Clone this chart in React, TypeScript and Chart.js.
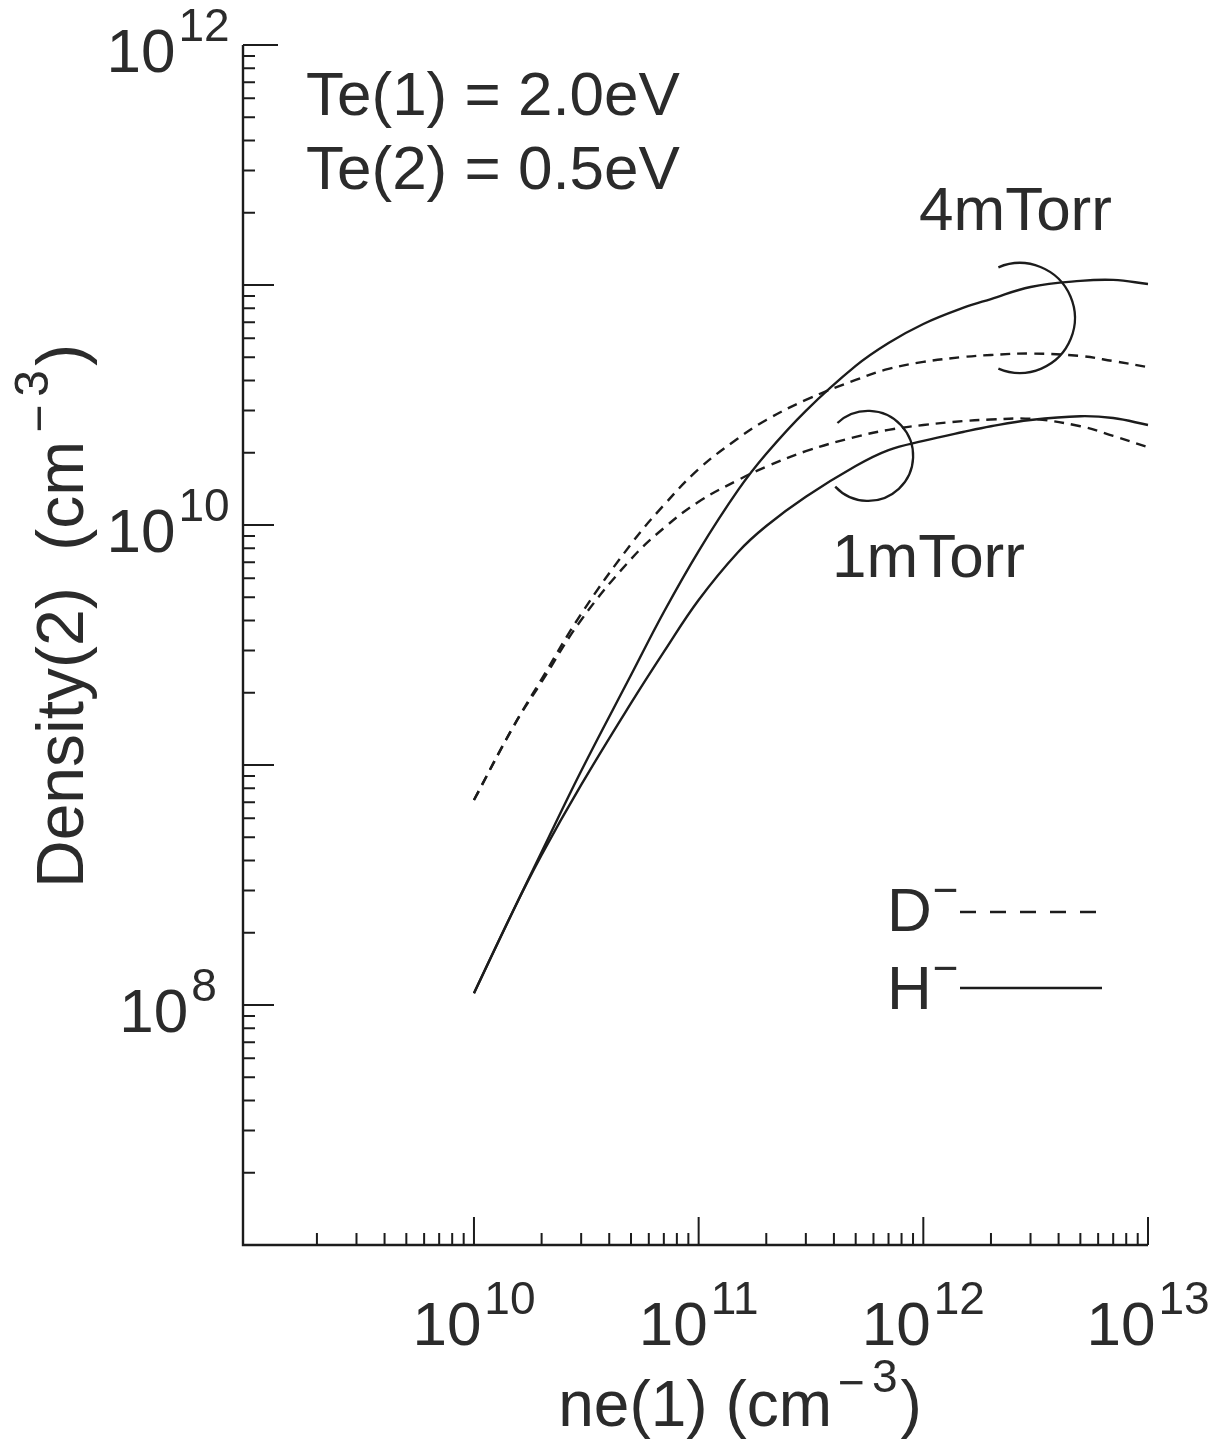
import React, { useEffect, useRef } from "react";
import { Chart, registerables } from "chart.js";

Chart.register(...registerables);

// ---- data ----
const neValues = [
  1e10, 1.5e10, 2e10, 3e10, 5e10, 7e10, 1e11, 1.5e11, 2e11, 3e11, 5e11, 7e11,
  1e12, 1.5e12, 2e12, 3e12, 5e12, 7e12, 1e13,
];
const hMinus4mTorr = [
  1.12e8, 2.49e8, 4.34e8, 9.44e8, 2.37e9, 4.34e9, 7.79e9, 1.4e10, 1.98e10, 2.99e10,
  4.6e10, 5.73e10, 6.88e10, 8.02e10, 8.74e10, 9.81e10, 1.04e11, 1.05e11, 1.01e11,
];
const hMinus1mTorr = [
  1.12e8, 2.49e8, 4.22e8, 8.26e8, 1.81e9, 2.96e9, 4.87e9, 7.72e9, 9.9e9, 1.31e10,
  1.76e10, 2.05e10, 2.24e10, 2.44e10, 2.58e10, 2.74e10, 2.84e10, 2.79e10, 2.61e10,
];
const dMinus4mTorr = [
  7.15e8, 1.45e9, 2.28e9, 4.26e9, 8.33e9, 1.21e10, 1.71e10, 2.3e10, 2.74e10, 3.32e10,
  4.02e10, 4.47e10, 4.78e10, 5.01e10, 5.11e10, 5.18e10, 5.06e10, 4.82e10, 4.55e10,
];
const dMinus1mTorr = [
  7.15e8, 1.45e9, 2.22e9, 4.02e9, 7.21e9, 9.71e9, 1.25e10, 1.54e10, 1.75e10, 2.03e10,
  2.33e10, 2.49e10, 2.61e10, 2.71e10, 2.75e10, 2.77e10, 2.58e10, 2.35e10, 2.11e10,
];
const xTickExponents = [10, 11, 12, 13];
const yTickExponents = [12, 10, 8];
const xMajorDecades = [10, 11, 12, 13];
const yMajorDecades = [8, 9, 10, 11, 12];
const xMinorDecades = [9, 10, 11, 12];
const yMinorDecades = [7, 8, 9, 10, 11];
const conditionLines = ["Te(1) = 2.0eV", "Te(2) = 0.5eV"];
const pressureLabels = ["4mTorr", "1mTorr"];
const legendItems = ["D", "H"];

const X_MIN = Math.pow(10, 8.972);
const X_MAX = 1e13;
const Y_MIN = 1e7;
const Y_MAX = 1e12;

const FONT = '"Liberation Sans", Arial, Helvetica, sans-serif';
const INK = "#1c1c1c";
const TEXT = "#2b2b2b";

type Part = { t: string; size: number; dy?: number; gap?: number };

function measureParts(ctx: CanvasRenderingContext2D, parts: Part[]) {
  let w = 0;
  for (const p of parts) {
    ctx.font = `${p.size}px ${FONT}`;
    w += (p.gap || 0) + ctx.measureText(p.t).width;
  }
  return w;
}

function drawParts(
  ctx: CanvasRenderingContext2D,
  parts: Part[],
  x: number,
  y: number,
  align: "left" | "center"
) {
  const total = measureParts(ctx, parts);
  let cx = align === "center" ? x - total / 2 : x;
  ctx.textAlign = "left";
  ctx.textBaseline = "alphabetic";
  for (const p of parts) {
    ctx.font = `${p.size}px ${FONT}`;
    cx += p.gap || 0;
    ctx.fillText(p.t, cx, y - (p.dy || 0));
    cx += ctx.measureText(p.t).width;
  }
}

const overlayPlugin = {
  id: "overlay",
  afterDraw(chart: any) {
    const ctx: CanvasRenderingContext2D = chart.ctx;
    const xs = chart.scales.x;
    const ys = chart.scales.y;
    const left = xs.getPixelForValue(X_MIN);
    const right = xs.getPixelForValue(X_MAX);
    const top = ys.getPixelForValue(Y_MAX);
    const bottom = ys.getPixelForValue(Y_MIN);
    ctx.save();
    ctx.strokeStyle = INK;
    ctx.lineCap = "butt";
    // axes
    ctx.lineWidth = 2.4;
    ctx.beginPath();
    ctx.moveTo(left, top);
    ctx.lineTo(left, bottom);
    ctx.lineTo(right, bottom);
    ctx.stroke();
    // y ticks
    ctx.lineWidth = 2;
    ctx.beginPath();
    for (const d of yMajorDecades) {
      const py = ys.getPixelForValue(Math.pow(10, d));
      ctx.moveTo(left, py);
      ctx.lineTo(left + (d === 12 ? 35 : 31), py);
    }
    for (const d of yMinorDecades) {
      for (let m = 2; m <= 9; m++) {
        const py = ys.getPixelForValue(m * Math.pow(10, d));
        ctx.moveTo(left, py);
        ctx.lineTo(left + 12, py);
      }
    }
    // x ticks
    for (const d of xMajorDecades) {
      const px = xs.getPixelForValue(Math.pow(10, d));
      ctx.moveTo(px, bottom);
      ctx.lineTo(px, bottom - 28);
    }
    for (const d of xMinorDecades) {
      for (let m = 2; m <= 9; m++) {
        const v = m * Math.pow(10, d);
        if (v < X_MIN) continue;
        const px = xs.getPixelForValue(v);
        ctx.moveTo(px, bottom);
        ctx.lineTo(px, bottom - 12);
      }
    }
    ctx.stroke();

    ctx.fillStyle = TEXT;
    // y tick labels
    for (const e of yTickExponents) {
      const py = ys.getPixelForValue(Math.pow(10, e));
      drawParts(
        ctx,
        [
          { t: "10", size: 62 },
          { t: String(e), size: 46, dy: 31, gap: 3 },
        ],
        168,
        py + 27,
        "center"
      );
    }
    // x tick labels
    for (const e of xTickExponents) {
      const px = xs.getPixelForValue(Math.pow(10, e));
      drawParts(
        ctx,
        [
          { t: "10", size: 62 },
          { t: String(e), size: 46, dy: 31, gap: 3 },
        ],
        px,
        1345,
        "center"
      );
    }
    // x title
    drawParts(
      ctx,
      [
        { t: "ne(1) (cm", size: 64 },
        { t: "\u2212", size: 46, dy: 28, gap: 6 },
        { t: "3", size: 46, dy: 34, gap: 7 },
        { t: ")", size: 64, gap: 3 },
      ],
      740,
      1426,
      "center"
    );
    // y title
    ctx.save();
    ctx.translate(83, 616);
    ctx.rotate(-Math.PI / 2);
    drawParts(
      ctx,
      [
        { t: "Density(2)  (cm", size: 66 },
        { t: "\u2212", size: 48, dy: 28, gap: 8 },
        { t: "3", size: 48, dy: 35, gap: 8 },
        { t: ")", size: 66, gap: 4 },
      ],
      0,
      0,
      "center"
    );
    ctx.restore();

    // conditions text
    ctx.font = `62px ${FONT}`;
    ctx.textAlign = "left";
    ctx.textBaseline = "alphabetic";
    ctx.fillText(conditionLines[0], 306, 115);
    ctx.fillText(conditionLines[1], 306, 189);
    // pressure labels
    ctx.fillText(pressureLabels[0], 919, 230);
    ctx.fillText(pressureLabels[1], 832, 577);

    // brackets (arcs) around curve pairs
    ctx.lineWidth = 2.3;
    const c4x = xs.getPixelForValue(2.69e12);
    const c4y = ys.getPixelForValue(7.29e10);
    ctx.beginPath();
    ctx.arc(c4x, c4y, 55, (-113 * Math.PI) / 180, (113 * Math.PI) / 180, false);
    ctx.stroke();
    const c1x = xs.getPixelForValue(5.68e11);
    const c1y = ys.getPixelForValue(1.94e10);
    ctx.beginPath();
    ctx.arc(c1x, c1y, 45, (-133 * Math.PI) / 180, (137 * Math.PI) / 180, false);
    ctx.stroke();

    // legend
    ctx.fillStyle = TEXT;
    drawParts(ctx, [{ t: legendItems[0], size: 62 }, { t: "\u2212", size: 44, dy: 26, gap: 1 }], 887, 931, "left");
    drawParts(ctx, [{ t: legendItems[1], size: 62 }, { t: "\u2212", size: 44, dy: 26, gap: 1 }], 887, 1009, "left");
    ctx.lineWidth = 2.3;
    ctx.setLineDash([16, 14]);
    ctx.beginPath();
    ctx.moveTo(960, 912);
    ctx.lineTo(1098, 912);
    ctx.stroke();
    ctx.setLineDash([]);
    ctx.beginPath();
    ctx.moveTo(960, 988);
    ctx.lineTo(1102, 988);
    ctx.stroke();
    ctx.restore();
  },
};

function series(values: number[]) {
  return neValues.map((x, i) => ({ x, y: values[i] }));
}

export default function App() {
  const ref = useRef<HTMLCanvasElement>(null);
  useEffect(() => {
    if (!ref.current) return;
    const common = {
      borderColor: INK,
      borderWidth: 2.4,
      pointRadius: 0,
      fill: false,
      tension: 0.4,
      clip: false as const,
    };
    const chart = new Chart(ref.current, {
      type: "line",
      data: {
        datasets: [
          { label: "H- 4mTorr", data: series(hMinus4mTorr), ...common },
          { label: "H- 1mTorr", data: series(hMinus1mTorr), ...common },
          { label: "D- 4mTorr", data: series(dMinus4mTorr), ...common, borderDash: [10, 7] },
          { label: "D- 1mTorr", data: series(dMinus1mTorr), ...common, borderDash: [10, 7] },
        ],
      },
      options: {
        responsive: false,
        animation: false,
        devicePixelRatio: 1,
        layout: { padding: { left: 243, right: 67, top: 45, bottom: 198 } },
        scales: {
          x: { type: "logarithmic", min: X_MIN, max: X_MAX, display: false },
          y: { type: "logarithmic", min: Y_MIN, max: Y_MAX, display: false },
        },
        plugins: { legend: { display: false }, tooltip: { enabled: false } },
        events: [],
      },
      plugins: [overlayPlugin],
    });
    return () => chart.destroy();
  }, []);
  return (
    <div style={{ position: "absolute", left: 0, top: 0, width: 1215, height: 1443, background: "#fff" }}>
      <canvas ref={ref} width={1215} height={1443} style={{ display: "block", width: 1215, height: 1443 }} />
    </div>
  );
}
